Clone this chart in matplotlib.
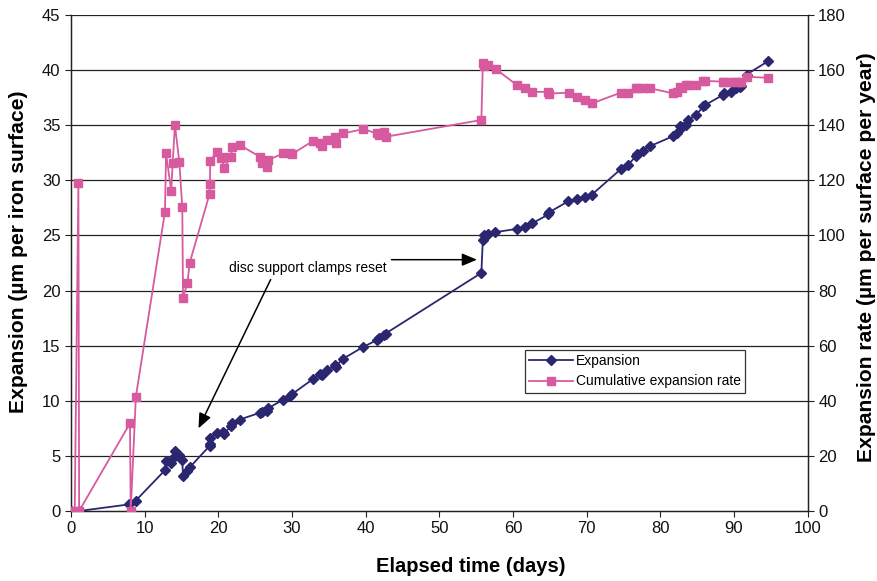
import matplotlib
matplotlib.use("Agg")
import matplotlib.pyplot as plt

plt.rcParams['font.family'] = ['Liberation Sans', 'DejaVu Sans']

# Expansion of the iron surface (um) against elapsed time (days)
exp_days = [0, 1.1, 7.9, 8.8, 12.75, 12.9, 13.6, 13.8, 14.1, 14.7, 15.1, 15.2, 15.8, 16.1,
            18.8, 18.85, 18.9, 19.8, 20.6, 20.7, 21.7, 21.9, 22.9, 25.6, 25.9, 26.6, 26.7,
            28.8, 29.7, 30.0, 32.9, 33.8, 34.0, 34.7, 35.8, 35.9, 36.9, 39.7, 41.5, 41.8,
            42.5, 42.7, 55.7, 55.9, 56.0, 56.6, 57.6, 60.6, 61.6, 62.6, 64.8, 64.9, 67.5,
            68.7, 69.7, 70.7, 74.6, 75.6, 76.7, 76.8, 77.6, 78.6, 81.7, 82.2, 82.6, 82.9,
            83.5, 83.8, 84.9, 85.8, 86.0, 88.5, 88.7, 89.6, 90.3, 90.8, 91.0, 91.7, 94.6]
expansion = [0, 0, 0.6, 0.95, 3.7, 4.5, 4.35, 4.8, 5.4, 5.1, 4.6, 3.2, 3.6, 3.95,
             5.9, 6.1, 6.6, 7.05, 7.2, 7.0, 7.7, 8.0, 8.3, 8.9, 9.0, 9.1, 9.3,
             10.1, 10.4, 10.6, 12.0, 12.4, 12.3, 12.8, 13.2, 13.1, 13.8, 14.9, 15.5, 15.7,
             16.0, 16.1, 21.6, 24.6, 25.0, 25.1, 25.3, 25.6, 25.8, 26.1, 26.9, 27.1, 28.1,
             28.3, 28.5, 28.7, 31.0, 31.4, 32.2, 32.4, 32.7, 33.1, 34.0, 34.25, 34.9, 34.8,
             35.0, 35.5, 35.95, 36.7, 36.8, 37.75, 37.9, 38.05, 38.4, 38.5, 38.6, 39.6, 40.8]

# Cumulative expansion rate (um per surface per year)
rate_days = [0, 0.5, 1.0, 1.1, 8.0, 8.1, 8.8, 12.75, 12.9, 13.6, 13.8, 14.1, 14.7, 15.1,
             15.2, 15.8, 16.1, 18.8, 18.85, 18.9, 19.8, 20.3, 20.6, 20.7, 21.7, 21.9, 22.9,
             25.6, 25.9, 26.6, 26.7, 28.8, 29.7, 30.0, 32.9, 33.8, 34.0, 34.7, 35.8, 35.9,
             36.9, 39.7, 41.5, 41.8, 42.5, 42.7, 55.7, 55.9, 56.0, 56.6, 57.7, 60.5, 61.6,
             62.6, 64.8, 64.9, 67.6, 68.7, 69.7, 70.7, 74.6, 75.6, 76.7, 76.8, 77.6, 78.6,
             81.7, 82.2, 82.6, 82.9, 83.5, 83.8, 84.9, 85.8, 86.0, 88.5, 88.7, 89.6, 90.3,
             90.8, 91.0, 91.7, 94.6]
rate = [0, 0, 118.9, 0, 31.8, 0, 41.5, 108.6, 129.8, 116, 126.4, 140.1, 126.7, 110.2,
        77.4, 82.8, 90.0, 115.0, 118.7, 127.0, 130.4, 128.0, 128.6, 124.3, 128.3, 132.2, 132.8,
        128.6, 126.2, 124.9, 127.3, 129.8, 129.8, 129.5, 134.4, 133.4, 132.5, 134.6, 135.8, 133.4,
        137.0, 138.6, 137.0, 136.5, 137.5, 135.8, 141.9, 162.4, 161.5, 161.8, 160.3, 154.6, 153.4,
        152.1, 152.1, 151.5, 151.8, 150.3, 149.1, 147.9, 151.8, 151.8, 153.4, 153.6, 153.4, 153.4,
        151.6, 152.1, 154.0, 153.4, 154.5, 154.6, 154.6, 156.0, 156.1, 155.8, 155.8, 155.8, 155.8,
        155.8, 155.8, 157.6, 157.2]

x_ticks = list(range(0, 101, 10))
left_ticks = list(range(0, 46, 5))
right_ticks = list(range(0, 181, 20))

navy = '#2B2670'
pink = '#D75A9F'

fig = plt.figure(figsize=(8.77, 5.81), dpi=100)
ax = fig.add_axes([0.081, 0.1205, 0.840, 0.8537])
ax2 = ax.twinx()

ax.set_xlim(0, 100)
ax.set_ylim(0, 45)
ax2.set_ylim(0, 180)
ax.set_xticks(x_ticks)
ax.set_yticks(left_ticks)
ax2.set_yticks(right_ticks)

for y in left_ticks[1:]:
    ax.axhline(y, color='#222222', linewidth=0.9, zorder=0)

l1, = ax.plot(exp_days, expansion, color=navy, marker='D', markersize=5.3,
              linewidth=1.3, label='Expansion', zorder=3)
l2, = ax2.plot(rate_days, rate, color=pink, marker='s', markersize=6,
               linewidth=1.3, label='Cumulative expansion rate', zorder=3)

for a in (ax, ax2):
    for s in a.spines.values():
        s.set_color('#222222')
        s.set_linewidth(0.9)
    a.tick_params(direction='out', length=4, width=0.8, labelsize=12, colors='#222222',
                  labelcolor='#111111')
ax.spines['top'].set_visible(False)
ax2.spines['top'].set_visible(False)

ax.set_xlabel('Elapsed time (days)', fontsize=14.5, fontweight='bold')
ax.xaxis.set_label_coords(0.543, -0.092)
ax.set_ylabel('Expansion (µm per iron surface)', fontsize=15.2, fontweight='bold')
ax.yaxis.set_label_coords(-0.0583, 0.523)
ax2.set_ylabel('Expansion rate (µm per surface per year)', fontsize=15.2, fontweight='bold',
               rotation=90)
ax2.yaxis.set_label_coords(1.0665, 0.511)

ax.text(32.2, 22.05, 'disc support clamps reset', fontsize=10, ha='center', va='center')
ax.annotate('', xy=(17.3, 7.5), xytext=(27.1, 21.0),
            arrowprops=dict(arrowstyle='-|>,head_length=0.9,head_width=0.38', color='black',
                            linewidth=1.1, shrinkA=0, shrinkB=0))
ax.annotate('', xy=(55.1, 22.8), xytext=(43.5, 22.8),
            arrowprops=dict(arrowstyle='-|>,head_length=0.9,head_width=0.38', color='black',
                            linewidth=1.1, shrinkA=0, shrinkB=0))

leg = ax2.legend(handles=[l1, l2], loc='upper left', bbox_to_anchor=(0.616, 0.3246),
                 borderaxespad=0, fontsize=10, frameon=True, fancybox=False,
                 handlelength=3.2, handletextpad=0.2, borderpad=0.3, labelspacing=0.45)
leg.get_frame().set_edgecolor('black')
leg.get_frame().set_linewidth(0.9)

fig.savefig('out.png', dpi=100)
